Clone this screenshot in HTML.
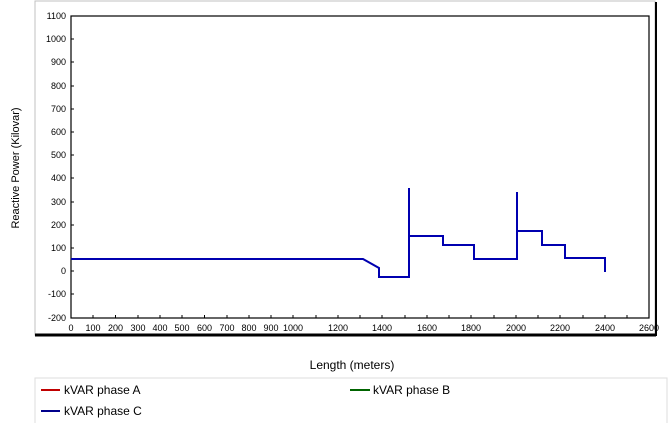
<!DOCTYPE html>
<html><head><style>
body{margin:0;width:668px;height:423px;background:#fff;overflow:hidden;font-family:"Liberation Sans",sans-serif;}
</style></head><body>
<svg width="668" height="423" xmlns="http://www.w3.org/2000/svg" font-family="Liberation Sans, sans-serif">
<rect x="35" y="1" width="620" height="334" fill="#fff" stroke="#c0c0c0"/>
<line x1="35" y1="335" x2="656" y2="335" stroke="#000" stroke-width="3"/>
<line x1="656" y1="2" x2="656" y2="336" stroke="#000" stroke-width="2"/>
<rect x="71" y="16" width="578" height="302" fill="#fff" stroke="#000" stroke-width="1.2"/>
<g font-size="9" fill="#000" text-anchor="end">
<text x="66" y="19">1100</text><text x="66" y="42">1000</text><text x="66" y="65">900</text><text x="66" y="89">800</text><text x="66" y="112">700</text><text x="66" y="135">600</text><text x="66" y="158">500</text><text x="66" y="181">400</text><text x="66" y="205">300</text><text x="66" y="228">200</text><text x="66" y="251">100</text><text x="66" y="274">0</text><text x="66" y="297">-100</text><text x="66" y="321">-200</text>
</g>
<g stroke="#000" stroke-width="1">
<line x1="71" y1="39" x2="74" y2="39"/><line x1="71" y1="62" x2="74" y2="62"/><line x1="71" y1="86" x2="74" y2="86"/><line x1="71" y1="109" x2="74" y2="109"/><line x1="71" y1="132" x2="74" y2="132"/><line x1="71" y1="155" x2="74" y2="155"/><line x1="71" y1="178" x2="74" y2="178"/><line x1="71" y1="202" x2="74" y2="202"/><line x1="71" y1="225" x2="74" y2="225"/><line x1="71" y1="248" x2="74" y2="248"/><line x1="71" y1="271" x2="74" y2="271"/><line x1="71" y1="294" x2="74" y2="294"/>
</g>
<g font-size="9" fill="#000" text-anchor="middle">
<text x="71" y="331">0</text><text x="93" y="331">100</text><text x="115.5" y="331">200</text><text x="138" y="331">300</text><text x="160" y="331">400</text><text x="182" y="331">500</text><text x="204.5" y="331">600</text><text x="227" y="331">700</text><text x="249" y="331">800</text><text x="271" y="331">900</text><text x="293" y="331">1000</text><text x="338" y="331">1200</text><text x="382" y="331">1400</text><text x="427" y="331">1600</text><text x="471" y="331">1800</text><text x="516" y="331">2000</text><text x="560" y="331">2200</text><text x="605" y="331">2400</text><text x="649" y="331">2600</text>
</g>
<g stroke="#000"><path d="M93 318v-3M115.5 318v-3M138 318v-3M160 318v-3M182 318v-3M204.5 318v-3M227 318v-3M249 318v-3M271 318v-3M293 318v-3M316 318v-3M338 318v-3M360 318v-3M382 318v-3M405 318v-3M427 318v-3M449 318v-3M471 318v-3M494 318v-3M516 318v-3M538 318v-3M560 318v-3M583 318v-3M605 318v-3M627 318v-3"/></g>
<polyline fill="none" stroke="#0000b0" stroke-width="2" points="71,259 363,259 379,268 379,277 409,277 409,188 409,236 443,236 443,245 474,245 474,259 517,259 517,192 517,231 542,231 542,245 565,245 565,258 605,258 605,272"/>
<text x="19" y="168" font-size="11" transform="rotate(-90 19 168)" text-anchor="middle">Reactive Power (Kilovar)</text>
<text x="352" y="369" font-size="12" text-anchor="middle">Length (meters)</text>
<rect x="35" y="378" width="632" height="46" fill="#fff" stroke="#ddd"/>
<line x1="41" y1="390" x2="60" y2="390" stroke="#c00000" stroke-width="2"/>
<text x="64" y="394" font-size="12">kVAR phase A</text>
<line x1="41" y1="411" x2="60" y2="411" stroke="#00008b" stroke-width="2"/>
<text x="64" y="415" font-size="12">kVAR phase C</text>
<line x1="350" y1="390" x2="370" y2="390" stroke="#006400" stroke-width="2"/>
<text x="373" y="394" font-size="12">kVAR phase B</text>
</svg>
</body></html>
